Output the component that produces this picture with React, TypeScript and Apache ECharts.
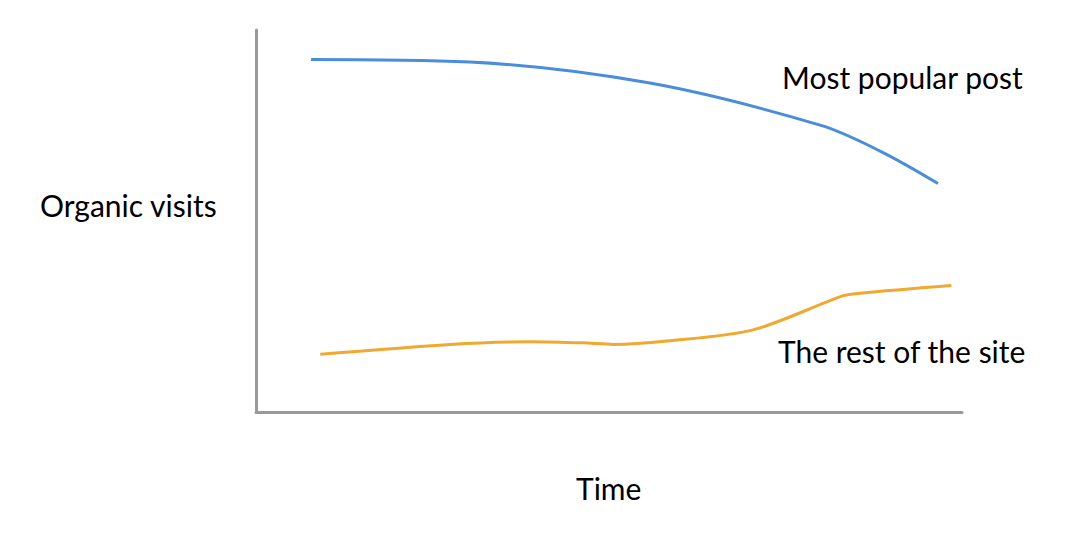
import React, { useEffect, useRef } from "react";
import * as echarts from "echarts";

const popularPost: [number, number][] = [
  [7.8, 92.3], [30.3, 91.6], [55.8, 86.1], [79.9, 75.1], [88.4, 68.3], [96.6, 59.8],
];
const restOfSite: [number, number][] = [
  [9.1, 15.1], [27.5, 17.7], [39.2, 18.4], [46.3, 18.1], [50.6, 17.7],
  [58.2, 18.6], [70.4, 21.5], [83.1, 30.4], [85.6, 31.1], [98.5, 33.1],
];
const seriesNames = ["Most popular post", "The rest of the site"];
const axisNames = { x: "Time", y: "Organic visits" };

export default function App() {
  const ref = useRef<HTMLDivElement>(null);
  useEffect(() => {
    const chart = echarts.init(ref.current!, null, { renderer: "svg" });
    const font = "30px Lato";
    const txt = (x: number, y: number, text: string) => ({
      type: "text", x, y,
      style: { text, font, fill: "#000", verticalAlign: "middle", align: "left" },
    });
    chart.setOption({
      animation: false,
      backgroundColor: "#ffffff",
      grid: { left: 256, right: 116, top: 30, bottom: 124 },
      xAxis: {
        type: "value", min: 0, max: 100,
        axisLine: { show: true, lineStyle: { color: "#999999", width: 3 } },
        axisTick: { show: false }, axisLabel: { show: false }, splitLine: { show: false },
      },
      yAxis: {
        type: "value", min: 0, max: 100,
        axisLine: { show: true, lineStyle: { color: "#999999", width: 3 } },
        axisTick: { show: false }, axisLabel: { show: false }, splitLine: { show: false },
      },
      series: [
        {
          name: seriesNames[0], type: "line", data: popularPost, smooth: 0.35,
          showSymbol: false, lineStyle: { color: "#4a8ddc", width: 3 },
        },
        {
          name: seriesNames[1], type: "line", data: restOfSite, smooth: 0.3,
          showSymbol: false, lineStyle: { color: "#f0a830", width: 3 },
        },
      ],
      graphic: [
        txt(40, 205, axisNames.y),
        txt(576, 488, axisNames.x),
        txt(782, 77, seriesNames[0]),
        txt(778, 351, seriesNames[1]),
      ],
    });
    return () => chart.dispose();
  }, []);
  return <div ref={ref} style={{ width: 1078, height: 536, position: "absolute", left: 0, top: 0 }} />;
}
